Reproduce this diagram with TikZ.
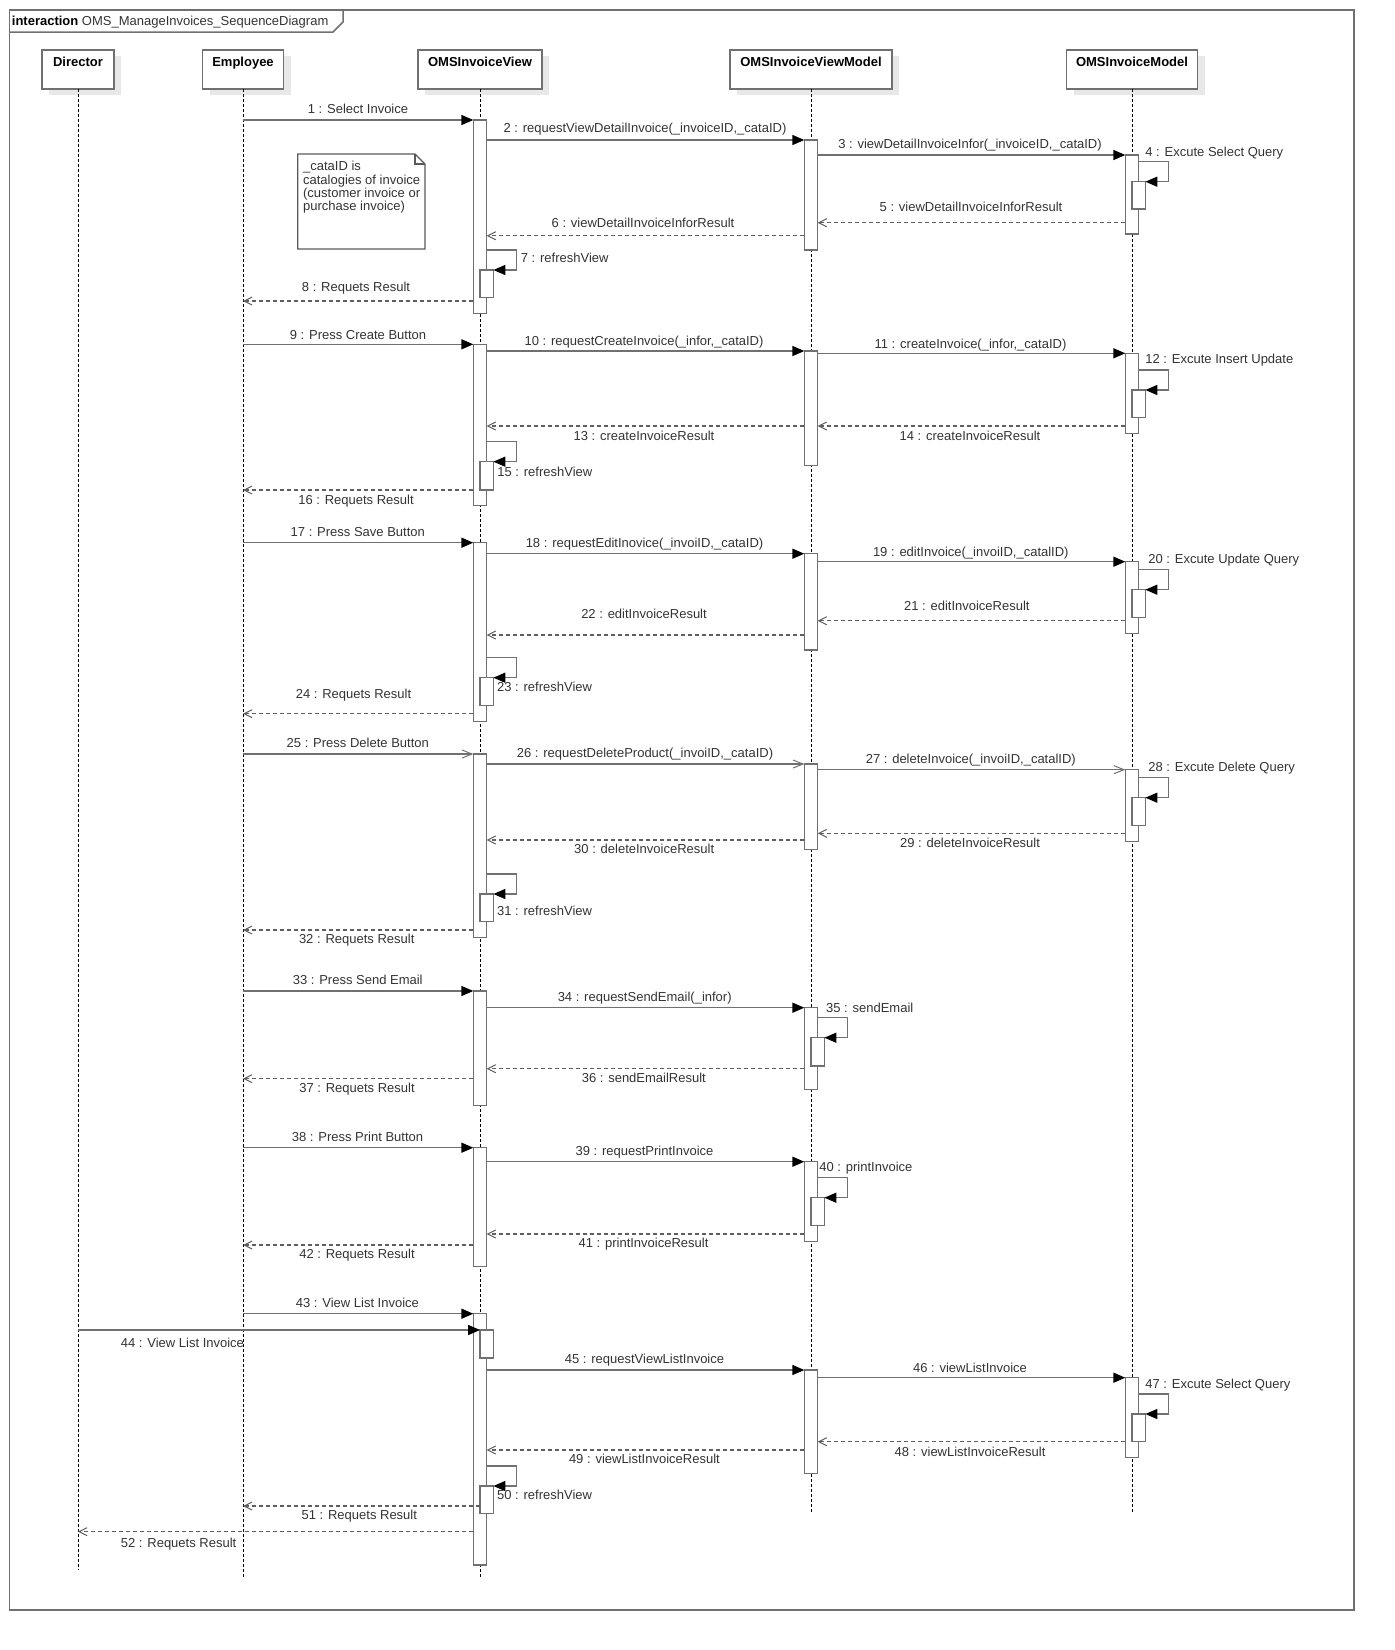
\documentclass[tikz,border=0pt]{standalone}
\usepackage{fontspec}
\setmainfont{Liberation Sans}
\usetikzlibrary{arrows.meta,shadows}
\definecolor{lg}{RGB}{112,112,112}
\definecolor{dg}{RGB}{95,95,95}
\definecolor{tx}{RGB}{51,51,51}
\definecolor{sh}{RGB}{232,232,232}
\newcommand\actbar[4]{\node[actb, minimum height={(#4-#3)*0.5pt}] (#1) at (#2,#3) {};}
\begin{document}
\begin{tikzpicture}[x=0.5pt,y=-0.5pt,
  lbl/.style={font=\fontsize{6.5pt}{6.65pt}\selectfont, text=tx, inner sep=0pt, text height=4.65pt, text depth=0pt},
  notetxt/.style={font=\fontsize{6.5pt}{6.65pt}\selectfont, text=tx, inner sep=0pt, align=left, anchor=north west},
  head/.style={draw=lg, line width=0.6pt, fill=white, minimum height=19.5pt, anchor=north,
     font=\bfseries\fontsize{6.5pt}{7pt}\selectfont, inner sep=0pt, text height=4.65pt, text depth=7.2pt, outer sep=0pt,
     drop shadow={shadow xshift=3.5pt, shadow yshift=-3pt, fill=sh, opacity=1}},
  actb/.style={draw=lg, line width=0.65pt, fill=white, minimum width=6.65pt, anchor=north, inner sep=0pt, outer sep=0pt},
  life/.style={draw=black, line width=0.5pt, dash pattern=on 1.5pt off 1pt},
  call/.style={draw=lg, line width=0.7pt, -{Triangle[length=6pt,width=5pt,color=black]}},
  async/.style={draw=lg, line width=0.7pt, -{Straight Barb[length=5pt,width=4pt,line width=0.5pt]}},
  ret/.style={draw=dg, line width=0.65pt, dash pattern=on 2pt off 1.5pt, -{Straight Barb[length=4pt,width=4pt,line width=0.5pt]}},
  frame/.style={draw=lg, line width=0.75pt}
]
\useasboundingbox (0,0) rectangle (1394,1650);

% frame
\draw[frame] (9.5,10) rectangle (1354,1610);
\draw[frame] (9.5,32) -- (333,32) -- (343,22) -- (343,10);
\node[lbl, anchor=west, text=black] (title) at (11.5,20.7) {\textbf{interaction} {\color{tx}OMS\_ManageInvoices\_SequenceDiagram}};

% heads
\node[head, minimum width=36pt] (dir) at (78,50) {Director};
\node[head, minimum width=40.5pt] (emp) at (243,50) {Employee};
\node[head, minimum width=62pt] (view) at (480,50) {OMSInvoiceView};
\node[head, minimum width=81pt] (vm) at (811,50) {OMSInvoiceViewModel};
\node[head, minimum width=65.5pt] (mod) at (1132,50) {OMSInvoiceModel};

% lifelines
\draw[life] (dir.south) -- (dir.south |- 0,1570);
\draw[life] (emp.south) -- (emp.south |- 0,1578);
\draw[life] (view.south) -- (view.south |- 0,1578);
\draw[life] (vm.south) -- (vm.south |- 0,1513);
\draw[life] (mod.south) -- (mod.south |- 0,1513);

% note
\node[minimum width=63.65pt, minimum height=47.5pt, inner sep=0pt, outer sep=0pt, anchor=north west] (note) at (297.7,154) {};
\draw[draw=lg!80!black, line width=0.6pt] (note.north west) -- ([xshift=-5pt]note.north east) -- ([yshift=-5pt]note.north east) -- (note.south east) -- (note.south west) -- cycle;
\draw[draw=lg!80!black, line width=0.6pt] ([xshift=-5pt]note.north east) -- ([xshift=-5pt,yshift=-5pt]note.north east) -- ([yshift=-5pt]note.north east);
\node[notetxt] (notetext) at (302.7,161) {\_cataID is\\catalogies of invoice\\(customer invoice or\\purchase invoice)};

% activation bars: View
\actbar{v1}{480}{120}{313.7}
\actbar{v2}{480}{344.3}{505.7}
\actbar{v3}{480}{542.7}{721.3}
\actbar{v4}{480}{754}{937.7}
\actbar{v5}{480}{991}{1105.7}
\actbar{v6}{480}{1147.7}{1266.3}
\actbar{v7}{480}{1313.7}{1565}
% ViewModel
\actbar{m1}{811}{140}{250}
\actbar{m2}{811}{351}{465.7}
\actbar{m3}{811}{553.7}{650}
\actbar{m4}{811}{764}{849.7}
\actbar{m5}{811}{1007.7}{1089.3}
\actbar{m6}{811}{1161.7}{1241.7}
\actbar{m7}{811}{1370}{1473.7}
% Model
\actbar{o1}{1132}{155}{234}
\actbar{o2}{1132}{353.3}{433.7}
\actbar{o3}{1132}{561.7}{633.7}
\actbar{o4}{1132}{769.7}{841.7}
\actbar{o7}{1132}{1377.7}{1457.3}
% nested bars
\actbar{o1n}{1138.7}{181.7}{209}
\actbar{v1n}{486.7}{270}{297.7}
\actbar{o2n}{1138.7}{390}{417.7}
\actbar{v2n}{486.7}{461.7}{490}
\actbar{o3n}{1138.7}{589.7}{617.7}
\actbar{v3n}{486.7}{677.7}{705.7}
\actbar{o4n}{1138.7}{797.7}{825.7}
\actbar{v4n}{486.7}{894}{921.7}
\actbar{m5n}{817.7}{1037.7}{1066}
\actbar{m6n}{817.7}{1197.7}{1225.7}
\actbar{v7a}{486.7}{1330}{1358}
\actbar{o7n}{1138.7}{1414}{1441.7}
\actbar{v7n}{486.7}{1486}{1513.3}

% ---- block 1
\draw[call] (emp |- 0,120) -- (v1.west |- 0,120);
\node[lbl] (l1) at (358,109) {1 : Select Invoice};
\draw[call] (v1.east |- 0,140) -- (m1.west |- 0,140);
\node[lbl] (l2) at (645,127.7) {2 : requestViewDetailInvoice(\_invoiceID,\_cataID)};
\draw[call] (m1.east |- 0,155) -- (o1.west |- 0,155);
\node[lbl] (l3) at (970,144) {3 : viewDetailInvoiceInfor(\_invoiceID,\_cataID)};
\draw[call] (o1.east |- 0,161.7) -- ++(30,0) |- (o1n.north east);
\node[lbl, anchor=west] (l4) at (1145,151.7) {4 : Excute Select Query};
\draw[ret] (o1.west |- 0,222.7) -- (m1.east |- 0,222.7);
\node[lbl] (l5) at (971,207.3) {5 : viewDetailInvoiceInforResult};
\draw[ret] (m1.west |- 0,235.7) -- (v1.east |- 0,235.7);
\node[lbl] (l6) at (643,222.7) {6 : viewDetailInvoiceInforResult};
\draw[call] (v1.east |- 0,250) -- ++(30,0) |- (v1n.north east);
\node[lbl, anchor=west] (l7) at (520.5,258.3) {7 : refreshView};
\draw[ret] (v1.west |- 0,301) -- (emp |- 0,301);
\node[lbl] (l8) at (356,286.7) {8 : Requets Result};

% ---- block 2
\draw[call] (emp |- 0,344.3) -- (v2.west |- 0,344.3);
\node[lbl] (l9) at (358,335) {9 : Press Create Button};
\draw[call] (v2.east |- 0,351) -- (m2.west |- 0,351);
\node[lbl] (l10) at (644,340.7) {10 : requestCreateInvoice(\_infor,\_cataID)};
\draw[call] (m2.east |- 0,353.3) -- (o2.west |- 0,353.3);
\node[lbl] (l11) at (970.5,344) {11 : createInvoice(\_infor,\_cataID)};
\draw[call] (o2.east |- 0,370) -- ++(30,0) |- (o2n.north east);
\node[lbl, anchor=west] (l12) at (1145,359.3) {12 : Excute Insert Update};
\draw[ret] (m2.west |- 0,426) -- (v2.east |- 0,426);
\node[lbl] (l13) at (644,436) {13 : createInvoiceResult};
\draw[ret] (o2.west |- 0,426) -- (m2.east |- 0,426);
\node[lbl] (l14) at (970,435.7) {14 : createInvoiceResult};
\draw[call] (v2.east |- 0,441.7) -- ++(30,0) |- (v2n.north east);
\node[lbl, anchor=west] (l15) at (497,471.7) {15 : refreshView};
\draw[ret] (v2.west |- 0,490) -- (emp |- 0,490);
\node[lbl] (l16) at (356,500) {16 : Requets Result};

% ---- block 3
\draw[call] (emp |- 0,542.7) -- (v3.west |- 0,542.7);
\node[lbl] (l17) at (357.8,532.3) {17 : Press Save Button};
\draw[call] (v3.east |- 0,553.7) -- (m3.west |- 0,553.7);
\node[lbl] (l18) at (644.5,543.3) {18 : requestEditInovice(\_invoiID,\_cataID)};
\draw[call] (m3.east |- 0,561.7) -- (o3.west |- 0,561.7);
\node[lbl] (l19) at (970.8,551.7) {19 : editInvoice(\_invoiID,\_catalID)};
\draw[call] (o3.east |- 0,569.7) -- ++(30,0) |- (o3n.north east);
\node[lbl, anchor=west] (l20) at (1148,559.3) {20 : Excute Update Query};
\draw[ret] (o3.west |- 0,620.7) -- (m3.east |- 0,620.7);
\node[lbl] (l21) at (966.8,606.3) {21 : editInvoiceResult};
\draw[ret] (m3.west |- 0,635) -- (v3.east |- 0,635);
\node[lbl] (l22) at (644,614.3) {22 : editInvoiceResult};
\draw[call] (v3.east |- 0,657.7) -- ++(30,0) |- (v3n.north east);
\node[lbl, anchor=west] (l23) at (496.7,687.3) {23 : refreshView};
\draw[ret] (v3.west |- 0,713.7) -- (emp |- 0,713.7);
\node[lbl] (l24) at (353.5,694.3) {24 : Requets Result};

% ---- block 4
\draw[async] (emp |- 0,754) -- (v4.west |- 0,754);
\node[lbl] (l25) at (357.8,743.3) {25 : Press Delete Button};
\draw[async] (v4.east |- 0,764) -- (m4.west |- 0,764);
\node[lbl] (l26) at (645,753.3) {26 : requestDeleteProduct(\_invoiID,\_cataID)};
\draw[async] (m4.east |- 0,769.7) -- (o4.west |- 0,769.7);
\node[lbl] (l27) at (970.8,759.3) {27 : deleteInvoice(\_invoiID,\_catalID)};
\draw[call] (o4.east |- 0,777.7) -- ++(30,0) |- (o4n.north east);
\node[lbl, anchor=west] (l28) at (1148,767.3) {28 : Excute Delete Query};
\draw[ret] (o4.west |- 0,833.3) -- (m4.east |- 0,833.3);
\node[lbl] (l29) at (970,843.3) {29 : deleteInvoiceResult};
\draw[ret] (m4.west |- 0,840) -- (v4.east |- 0,840);
\node[lbl] (l30) at (644.2,849.3) {30 : deleteInvoiceResult};
\draw[call] (v4.east |- 0,874) -- ++(30,0) |- (v4n.north east);
\node[lbl, anchor=west] (l31) at (496.7,911) {31 : refreshView};
\draw[ret] (v4.west |- 0,930) -- (emp |- 0,930);
\node[lbl] (l32) at (356.7,939.3) {32 : Requets Result};

% ---- block 5
\draw[call] (emp |- 0,991) -- (v5.west |- 0,991);
\node[lbl] (l33) at (357.7,980) {33 : Press Send Email};
\draw[call] (v5.east |- 0,1007.7) -- (m5.west |- 0,1007.7);
\node[lbl] (l34) at (644.7,997.3) {34 : requestSendEmail(\_infor)};
\draw[call] (m5.east |- 0,1017.7) -- ++(30,0) |- (m5n.north east);
\node[lbl, anchor=west] (l35) at (825.7,1007.7) {35 : sendEmail};
\draw[ret] (m5.west |- 0,1068.7) -- (v5.east |- 0,1068.7);
\node[lbl] (l36) at (643.8,1078.3) {36 : sendEmailResult};
\draw[ret] (v5.west |- 0,1078.7) -- (emp |- 0,1078.7);
\node[lbl] (l37) at (357,1088.3) {37 : Requets Result};

% ---- block 6
\draw[call] (emp |- 0,1147.7) -- (v6.west |- 0,1147.7);
\node[lbl] (l38) at (357.5,1137.3) {38 : Press Print Button};
\draw[call] (v6.east |- 0,1161.7) -- (m6.west |- 0,1161.7);
\node[lbl] (l39) at (644.5,1151.3) {39 : requestPrintInvoice};
\draw[call] (m6.east |- 0,1177.7) -- ++(30,0) |- (m6n.north east);
\node[lbl, anchor=west] (l40) at (819,1167.3) {40 : printInvoice};
\draw[ret] (m6.west |- 0,1234) -- (v6.east |- 0,1234);
\node[lbl] (l41) at (643.5,1243.3) {41 : printInvoiceResult};
\draw[ret] (v6.west |- 0,1245) -- (emp |- 0,1245);
\node[lbl] (l42) at (357,1254.3) {42 : Requets Result};

% ---- block 7
\draw[call] (emp |- 0,1313.7) -- (v7.west |- 0,1313.7);
\node[lbl] (l43) at (357.4,1303.3) {43 : View List Invoice};
\draw[call] (dir |- 0,1330) -- (v7a.west |- 0,1330);
\node[lbl, anchor=west] (l44) at (120.5,1343.3) {44 : View List Invoice};
\draw[call] (v7.east |- 0,1370) -- (m7.west |- 0,1370);
\node[lbl] (l45) at (644.5,1359.3) {45 : requestViewListInvoice};
\draw[call] (m7.east |- 0,1377.7) -- (o7.west |- 0,1377.7);
\node[lbl] (l46) at (970,1367.7) {46 : viewListInvoice};
\draw[call] (o7.east |- 0,1394) -- ++(30,0) |- (o7n.north east);
\node[lbl, anchor=west] (l47) at (1145,1384) {47 : Excute Select Query};
\draw[ret] (o7.west |- 0,1441.7) -- (m7.east |- 0,1441.7);
\node[lbl] (l48) at (970,1451.7) {48 : viewListInvoiceResult};
\draw[ret] (m7.west |- 0,1450) -- (v7.east |- 0,1450);
\node[lbl] (l49) at (644.4,1459.3) {49 : viewListInvoiceResult};
\draw[call] (v7.east |- 0,1466) -- ++(30,0) |- (v7n.north east);
\node[lbl, anchor=west] (l50) at (496.7,1495) {50 : refreshView};
\draw[ret] (v7n.west |- 0,1506) -- (emp |- 0,1506);
\node[lbl] (l51) at (359.3,1515.3) {51 : Requets Result};
\draw[ret] (v7.west |- 0,1531.7) -- (dir |- 0,1531.7);
\node[lbl, anchor=west] (l52) at (120.5,1543.3) {52 : Requets Result};
\end{tikzpicture}
\end{document}
